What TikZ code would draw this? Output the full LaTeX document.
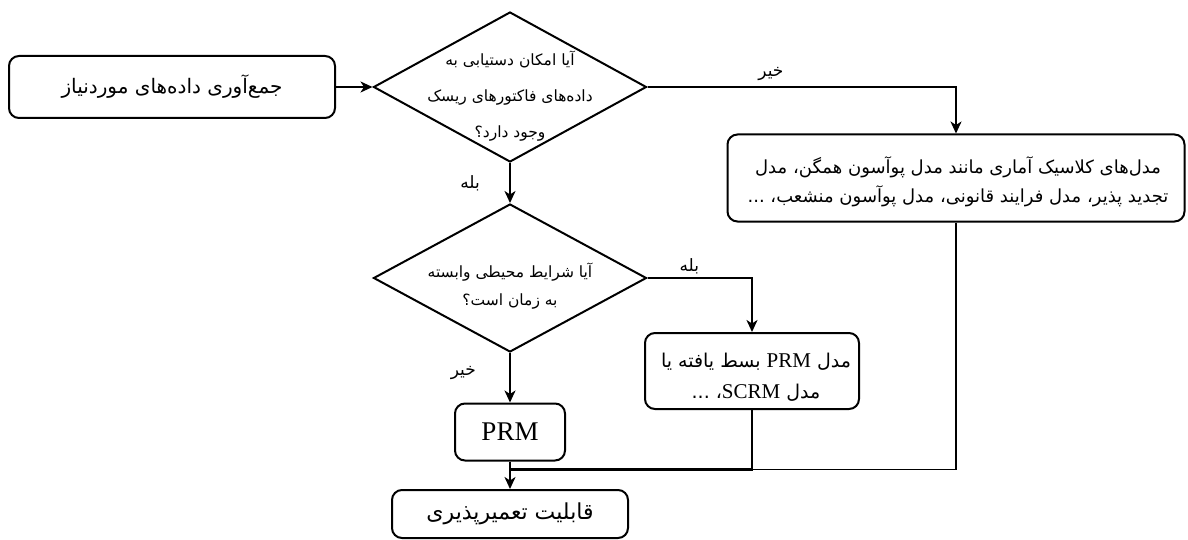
\documentclass[tikz,border=0pt]{standalone}
\usepackage{fontspec}
\setmainfont{Liberation Serif}
\newfontfamily\farsi[Script=Arabic]{DejaVu Sans}
\TeXXeTstate=1
\usepackage{tikz}
\usetikzlibrary{shapes.geometric, arrows.meta, positioning, calc}
\newcommand{\fatext}[1]{\beginR#1\endR}

\begin{document}
\begin{tikzpicture}[
    x=1pt, y=-1pt,
    box/.style={draw, rectangle, rounded corners=10pt, line width=2pt, align=center, inner sep=0pt},
    decision/.style={draw, diamond, line width=2pt, minimum width=273pt, minimum height=150pt, inner sep=0pt},
    dtext/.style={align=center, font=\farsi\fontsize{15.5}{36}\selectfont},
    lbl/.style={font=\farsi\fontsize{17}{18}\selectfont},
    line/.style={line width=1.8pt},
    msg/.style={line width=1.8pt,-{Stealth[length=12pt,width=11pt,inset=3.5pt]}}
]
\useasboundingbox (0,0) rectangle (1188,540);

% Boxes
\node[box, minimum width=326pt, minimum height=62pt, font=\farsi\fontsize{20}{22}\selectfont] (collect) at (172,87) {\fatext{جمع‌آوری داده‌های موردنیاز}};
\node[decision] (avail) at (510,87) {};
\node[dtext] (availtxt) at ($(avail)+(0,9)$) {\fatext{آیا امکان دستیابی به}\\\fatext{داده‌های فاکتورهای ریسک}\\\fatext{وجود دارد؟}};
\node[box, minimum width=457pt, minimum height=87pt] (classic) at (956,178) {};
\node[align=center, font=\farsi\fontsize{18}{29}\selectfont] (classictxt) at ($(classic)+(2,4)$) {\fatext{مدل‌های کلاسیک آماری مانند مدل پوآسون همگن، مدل}\\\fatext{تجدید پذیر، مدل فرایند قانونی، مدل پوآسون منشعب، ...}};
\node[decision, minimum height=148pt] (timedep) at (510,278) {};
\node[dtext, font=\farsi\fontsize{15.5}{28}\selectfont] (timedeptxt) at ($(timedep)+(0,8)$) {\fatext{آیا شرایط محیطی وابسته}\\\fatext{به زمان است؟}};
\node[box, minimum width=214pt, minimum height=76pt] (extended) at (752,371) {};
\node[align=center, font=\farsi\fontsize{19}{31}\selectfont] (extendedtxt) at ($(extended)+(4,6)$) {\fatext{مدل \beginL{\rmfamily\fontsize{21}{21}\selectfont PRM}\endL{} بسط یافته یا}\\\fatext{مدل \beginL{\rmfamily\fontsize{21}{21}\selectfont SCRM}\endL{}، ...}};
\node[box, minimum width=110pt, minimum height=57pt, font=\fontsize{27}{27}\selectfont] (prm) at (510,432) {PRM};
\node[box, minimum width=236pt, minimum height=48pt, font=\farsi\fontsize{22}{24}\selectfont] (result) at (510,514) {\fatext{قابلیت تعمیرپذیری}};

% Connectors
\draw[msg] (collect) -- (avail);
\draw[msg] (avail.east) -| (classic.north) node[lbl, pos=0.2, above=2pt] (no1) {\fatext{خیر}};
\draw[msg] (avail.south) -- (timedep.north) node[lbl, midway, left=26pt] (yes1) {\fatext{بله}};
\draw[msg] (timedep.east) -| (extended.north) node[lbl, pos=0.2, above=0pt] (yes2) {\fatext{بله}};
\draw[msg] (timedep.south) -- (prm.north) node[lbl, pos=0.4, left=30pt] (no2) {\fatext{خیر}};

% Join
\coordinate (join) at ($(prm.south)+(0,8)$);
\draw[line] (prm.south) -- (join);
\draw[line, line width=2.6pt] (extended.south) |- (join);
\draw[line] (classic.south) |- (join);
\draw[msg] (join) -- (result.north);

\end{tikzpicture}
\end{document}
